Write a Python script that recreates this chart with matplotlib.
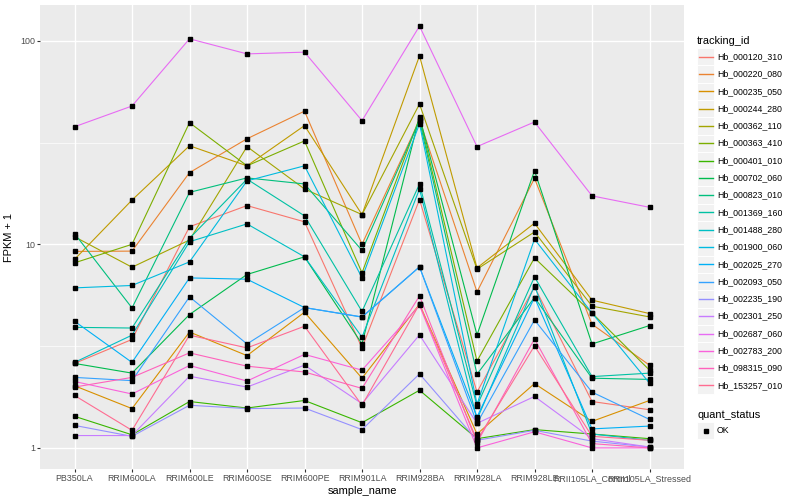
import matplotlib
matplotlib.use("Agg")
import matplotlib.pyplot as plt
from matplotlib.lines import Line2D
from matplotlib.patches import Rectangle
from matplotlib.ticker import FixedLocator, NullFormatter

plt.rcParams['font.family'] = ['Liberation Sans', 'DejaVu Sans']

samples = ["PB350LA", "RRIM600LA", "RRIM600LE", "RRIM600SE", "RRIM600PE",
           "RRIM901LA", "RRIM928BA", "RRIM928LA", "RRIM928LE",
           "RRII105LA_Control", "RRII105LA_Stressed"]

# FPKM + 1 per sample
hb_000120_310 = [2.60, 3.41, 12.2, 15.5, 12.9, 3.10, 16.6, 1.88, 6.18, 1.69, 1.54]
hb_000220_080 = [9.23, 9.26, 22.5, 33.0, 45.1, 10.0, 40.8, 5.84, 21.1, 4.05, 2.55]
hb_000235_050 = [2.02, 1.56, 3.71, 2.84, 4.64, 2.20, 5.08, 1.17, 2.07, 1.35, 1.71]
hb_000244_280 = [8.43, 16.5, 30.5, 24.3, 38.3, 14.0, 84.3, 7.66, 12.7, 5.32, 4.57]
hb_000362_110 = [10.9, 7.72, 10.5, 30.2, 18.7, 14.0, 48.9, 7.55, 11.5, 4.97, 4.40]
hb_000363_410 = [8.11, 10.0, 39.6, 24.3, 32.2, 7.24, 41.8, 2.67, 8.58, 4.60, 2.41]
hb_000401_010 = [1.43, 1.16, 1.69, 1.57, 1.71, 1.33, 1.92, 1.11, 1.23, 1.17, 1.11]
hb_000702_060 = [2.60, 2.33, 4.52, 7.11, 8.68, 3.24, 42.4, 3.59, 23.0, 3.24, 3.99]
hb_000823_010 = [11.3, 4.87, 18.0, 21.2, 19.8, 9.33, 40.5, 2.30, 5.48, 2.20, 2.17]
hb_001369_160 = [3.91, 3.88, 10.7, 20.9, 13.8, 4.68, 19.8, 1.61, 6.92, 2.24, 2.33]
hb_001488_280 = [2.63, 3.58, 10.3, 12.6, 8.68, 3.50, 18.7, 1.38, 6.25, 1.17, 1.09]
hb_001900_060 = [6.11, 6.28, 8.20, 20.5, 24.3, 6.84, 39.1, 1.64, 10.6, 4.60, 2.08]
hb_002025_270 = [4.19, 2.63, 6.84, 6.74, 4.89, 4.39, 7.75, 1.42, 5.48, 1.24, 1.28]
hb_002093_050 = [2.22, 2.14, 5.52, 3.24, 4.89, 4.40, 7.75, 1.32, 4.25, 1.88, 1.38]
hb_002235_190 = [1.29, 1.14, 1.62, 1.56, 1.57, 1.23, 2.31, 1.09, 1.22, 1.08, 1.01]
hb_002301_250 = [1.15, 1.15, 2.25, 1.99, 2.55, 1.65, 3.59, 1.32, 1.79, 1.11, 1.01]
hb_002687_060 = [37.8, 47.8, 102.2, 86.2, 87.9, 40.5, 118.0, 30.2, 39.9, 17.3, 15.2]
hb_002783_200 = [2.12, 1.84, 2.54, 2.13, 2.88, 2.41, 5.01, 1.00, 1.20, 1.00, 1.00]
hb_098315_090 = [1.99, 2.22, 2.93, 2.52, 2.36, 1.96, 5.58, 1.06, 3.43, 1.05, 1.00]
hb_153257_010 = [1.81, 1.22, 3.58, 3.10, 3.96, 1.62, 5.08, 1.09, 3.17, 1.14, 1.09]

tracking_ids = ["Hb_000120_310", "Hb_000220_080", "Hb_000235_050", "Hb_000244_280",
                "Hb_000362_110", "Hb_000363_410", "Hb_000401_010", "Hb_000702_060",
                "Hb_000823_010", "Hb_001369_160", "Hb_001488_280", "Hb_001900_060",
                "Hb_002025_270", "Hb_002093_050", "Hb_002235_190", "Hb_002301_250",
                "Hb_002687_060", "Hb_002783_200", "Hb_098315_090", "Hb_153257_010"]
series = [hb_000120_310, hb_000220_080, hb_000235_050, hb_000244_280, hb_000362_110,
          hb_000363_410, hb_000401_010, hb_000702_060, hb_000823_010, hb_001369_160,
          hb_001488_280, hb_001900_060, hb_002025_270, hb_002093_050, hb_002235_190,
          hb_002301_250, hb_002687_060, hb_002783_200, hb_098315_090, hb_153257_010]

# ggplot default hue palette for 20 levels
colors = ["#F8766D", "#EA8331", "#D89000", "#C09B00", "#A3A500", "#7CAE00", "#39B600",
          "#00BB4E", "#00BF7D", "#00C1A3", "#00BFC4", "#00BAE0", "#00B0F6", "#35A2FF",
          "#9590FF", "#C77CFF", "#E76BF3", "#FA62DB", "#FF62BC", "#FF6C91"]

W, H = 800, 500
fig = plt.figure(figsize=(W / 100, H / 100), dpi=100)
ax = fig.add_axes([40 / W, 1 - 469 / H, 644 / W, 464 / H])
ax.set_facecolor("#EBEBEB")
for s in ax.spines.values():
    s.set_visible(False)

x = list(range(len(samples)))
for vals, c in zip(series, colors):
    ax.plot(x, vals, color=c, linewidth=0.8, zorder=2)
for vals in series:
    ax.plot(x, vals, linestyle="none", marker="s", markersize=2.7,
            color="black", zorder=3)

ax.set_yscale("log")
ax.set_ylim(10 ** -0.1036, 10 ** 2.1756)
ax.set_xlim(-0.6, len(samples) - 0.4)
ax.yaxis.set_major_locator(FixedLocator([1, 10, 100]))
ax.set_yticklabels(["1", "10", "100"])
ax.yaxis.set_minor_locator(FixedLocator([10 ** 0.5, 10 ** 1.5]))
ax.yaxis.set_minor_formatter(NullFormatter())
ax.set_xticks(x)
ax.set_xticklabels(samples)

ax.grid(True, which="major", color="white", linewidth=1.0, zorder=0)
ax.grid(True, which="minor", axis="y", color="white", linewidth=0.5, zorder=0)
ax.set_axisbelow(True)
ax.tick_params(axis="both", which="major", length=2.0, width=0.8, color="#333333",
               labelcolor="#4D4D4D", labelsize=6.4, pad=1.6)
ax.tick_params(axis="y", which="minor", length=0)

ax.set_xlabel("sample_name", fontsize=7.9, labelpad=2)
ax.set_ylabel("FPKM + 1", fontsize=7.9, labelpad=4)

# legends on the right, drawn in pixel positions like ggplot's guide boxes
def fx(px):
    return px / W

def fy(py):
    return 1 - py / H

fig.text(fx(697), fy(40.5), "tracking_id", fontsize=7.9, va="center", ha="left")
key_w, key_h, step, first = 17.3, 17.3, 17.3, 56.7
for i, (name, c) in enumerate(zip(tracking_ids, colors)):
    yc = first + i * step
    fig.patches.append(Rectangle((fx(697), fy(yc + key_h / 2)), key_w / W, key_h / H,
                                 transform=fig.transFigure, facecolor="#F2F2F2",
                                 edgecolor="white", linewidth=0.7, zorder=1))
    fig.lines.append(Line2D([fx(698.5), fx(712.8)], [fy(yc), fy(yc)],
                            transform=fig.transFigure, color=c, linewidth=1.0,
                            zorder=5))
    fig.text(fx(717), fy(yc), name, fontsize=6.3, va="center", ha="left")

fig.text(fx(697), fy(414.5), "quant_status", fontsize=7.9, va="center", ha="left")
yok = 430.5
fig.patches.append(Rectangle((fx(697), fy(yok + key_h / 2)), key_w / W, key_h / H,
                             transform=fig.transFigure, facecolor="#F2F2F2",
                             edgecolor="white", linewidth=0.7, zorder=1))
fig.lines.append(Line2D([fx(705.6)], [fy(yok)], transform=fig.transFigure,
                        marker="s", markersize=2.7, color="black", linestyle="none",
                        zorder=5))
fig.text(fx(717), fy(yok), "OK", fontsize=6.3, va="center", ha="left")

fig.savefig("out.png", dpi=100)
